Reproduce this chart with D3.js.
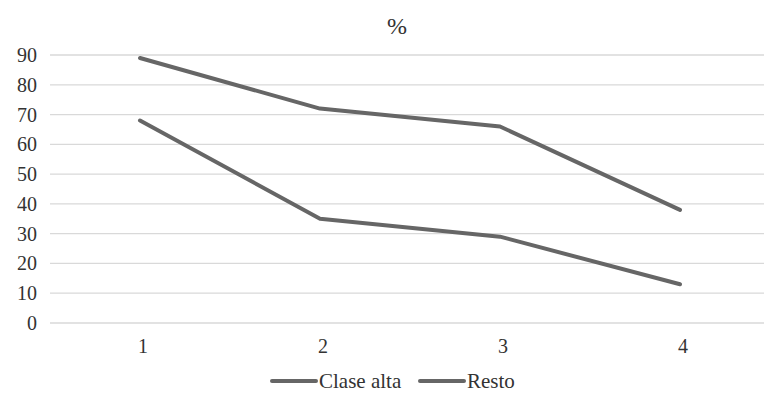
<!DOCTYPE html>
<html>
<head>
<meta charset="utf-8">
<script src="https://d3js.org/d3.v7.min.js"></script>
<style>
  body { margin: 0; background: #fff; }
  #chart { position: relative; width: 764px; height: 403px; }
  #chart svg { position: absolute; left: 0; top: 0; }
  .lbl { position: absolute; font-family: "Liberation Serif", serif; color: #333;
         white-space: nowrap; line-height: 1; }
</style>
</head>
<body>
<div id="chart"></div>
<script>
// datos del grafico
var categorias = ["1", "2", "3", "4"];
var claseAlta = [68, 35, 29, 13];
var resto = [89, 72, 66, 38];
var yTicks = [0, 10, 20, 30, 40, 50, 60, 70, 80, 90];
var series = [
  { nombre: "Clase alta", valores: claseAlta },
  { nombre: "Resto", valores: resto }
];

var width = 764, height = 403;
var plotL = 50, plotR = 770, plotT = 55, plotB = 323;

var chart = d3.select("#chart");
var svg = chart.append("svg")
    .attr("width", width)
    .attr("height", height);

var x = d3.scaleBand().domain(categorias).range([plotL, plotR]);
var y = d3.scaleLinear().domain([0, 90]).range([plotB, plotT]);

// lineas de cuadricula
svg.append("g")
  .selectAll("line")
  .data(yTicks)
  .enter().append("line")
    .attr("x1", plotL)
    .attr("x2", plotR)
    .attr("y1", function(d) { return y(d); })
    .attr("y2", function(d) { return y(d); })
    .attr("stroke", "#d9d9d9")
    .attr("stroke-width", 1.3);

var linea = d3.line()
  .x(function(d, i) { return x(categorias[i]) + x.bandwidth() / 2; })
  .y(function(d) { return y(d); });

svg.append("g")
  .selectAll("path")
  .data(series)
  .enter().append("path")
    .attr("d", function(s) { return linea(s.valores); })
    .attr("fill", "none")
    .attr("stroke", "#666")
    .attr("stroke-width", 4)
    .attr("stroke-linejoin", "round")
    .attr("stroke-linecap", "round");

// etiquetas eje y (texto html para poder usar la fuente con serifas)
chart.selectAll("div.ytick")
  .data(yTicks)
  .enter().append("div")
    .attr("class", "lbl ytick")
    .style("right", (width - 37) + "px")
    .style("top", function(d) { return (y(d) - 10) + "px"; })
    .style("font-size", "20px")
    .text(function(d) { return d; });

// etiquetas eje x
chart.selectAll("div.xtick")
  .data(categorias)
  .enter().append("div")
    .attr("class", "lbl xtick")
    .style("left", function(d) { return (x(d) + x.bandwidth() / 2 - 2) + "px"; })
    .style("top", "336px")
    .style("font-size", "20px")
    .text(function(d) { return d; });

// titulo
chart.append("div")
  .attr("class", "lbl")
  .style("left", "387px")
  .style("top", "14px")
  .style("font-size", "24px")
  .text("%");

// leyenda
var legX = [272, 420];
var leg = svg.append("g")
  .selectAll("line")
  .data(series)
  .enter().append("line")
    .attr("x1", function(d, i) { return legX[i]; })
    .attr("x2", function(d, i) { return legX[i] + 44; })
    .attr("y1", 381).attr("y2", 381)
    .attr("stroke", "#666")
    .attr("stroke-width", 4)
    .attr("stroke-linecap", "round");

chart.selectAll("div.leg")
  .data(series)
  .enter().append("div")
    .attr("class", "lbl leg")
    .style("left", function(d, i) { return (legX[i] + 47) + "px"; })
    .style("top", "371px")
    .style("font-size", "21px")
    .text(function(d) { return d.nombre; });
</script>
</body>
</html>
